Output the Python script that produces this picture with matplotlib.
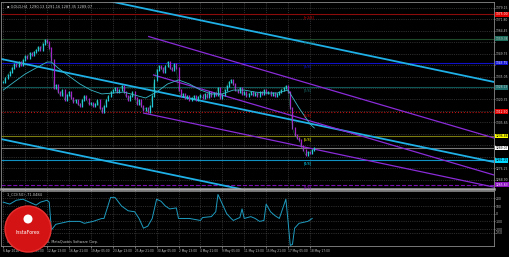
import numpy as np
import matplotlib.pyplot as plt
from matplotlib.patches import Ellipse
import matplotlib.transforms as mtransforms

# GOLD H4 closes, bar by bar
closes = [1331.6, 1334.1, 1336.1, 1338.0, 1340.6, 1343.1, 1341.9, 1344.4, 1342.5, 1345.7,
          1348.3, 1347.0, 1350.2, 1348.9, 1350.9, 1352.1, 1354.1, 1352.1, 1356.0, 1358.6,
          1357.3, 1353.4, 1345.7, 1327.7, 1329.6, 1325.1, 1323.2, 1326.4, 1320.0, 1323.2,
          1325.1, 1321.3, 1318.7, 1320.0, 1317.4, 1316.1, 1320.0, 1322.6, 1320.6, 1317.4,
          1318.1, 1316.1, 1317.4, 1320.0, 1314.9, 1312.3, 1316.1, 1320.0, 1322.6, 1325.1,
          1326.4, 1327.7, 1325.1, 1326.4, 1329.0, 1325.1, 1322.6, 1320.0, 1322.6, 1325.1,
          1321.3, 1317.4, 1320.0, 1316.1, 1313.6, 1314.9, 1312.3, 1316.1, 1322.6, 1332.9,
          1339.3, 1341.9, 1340.6, 1338.0, 1341.9, 1344.4, 1340.6, 1339.3, 1343.1, 1340.6,
          1326.4, 1322.6, 1323.9, 1321.3, 1322.6, 1320.0, 1321.3, 1322.6, 1320.0, 1321.9,
          1323.2, 1321.3, 1323.9, 1321.9, 1325.1, 1322.6, 1324.5, 1323.2, 1327.7, 1321.3,
          1323.2, 1326.4, 1329.0, 1331.6, 1332.9, 1330.3, 1326.4, 1325.1, 1327.7, 1323.9,
          1325.1, 1322.6, 1323.9, 1325.1, 1323.2, 1324.5, 1322.6, 1325.1, 1323.9, 1326.4,
          1324.5, 1325.1, 1323.2, 1324.5, 1322.6, 1323.9, 1325.1, 1326.4, 1327.7, 1329.0,
          1325.1, 1314.9, 1302.0, 1297.5, 1295.6, 1294.3, 1290.4, 1287.8, 1284.6, 1286.6,
          1285.9, 1287.8, 1289.1]

# moving average (sampled bars)
ma_bars = [0, 5, 10, 15, 20, 22, 25, 30, 35, 40, 45, 50, 55, 60, 65, 70, 75, 80, 85, 90,
           95, 100, 105, 110, 115, 120, 125, 130, 135, 140, 142]
ma_vals = [1326.4, 1331.6, 1336.7, 1340.6, 1344.4, 1344.4, 1340.6, 1335.4, 1330.3, 1326.4,
           1323.9, 1324.5, 1325.1, 1323.2, 1321.3, 1325.1, 1330.3, 1332.9, 1330.3, 1326.4,
           1323.9, 1323.9, 1326.4, 1326.4, 1325.1, 1324.5, 1324.5, 1326.4, 1314.9, 1304.6, 1302.0]

# CCI(50)
cci_bars = [0, 3, 6, 9, 12, 15, 17, 20, 21, 22, 24, 30, 35, 37, 41, 45, 46, 49, 51, 54,
            57, 60, 62, 64, 66, 68, 70, 72, 74, 76, 79, 80, 85, 90, 91, 95, 97, 98, 99, 100,
            102, 104, 105, 107, 108, 109, 110, 113, 115, 117, 119, 120, 122, 124, 126, 129,
            130, 131, 132, 133, 135, 139, 141]
cci_vals = [150, 125, 175, 188, 150, 112, 150, 175, 150, -212, -138, -100, -100, -125, -100,
            -62, -62, 212, 212, 100, 38, 25, -62, -188, -162, -62, 188, 162, 100, 62, 75, -62,
            -62, -88, -50, -38, 25, 250, 188, 125, 0, -62, -88, -62, -50, 62, -62, -38, -62,
            -100, -88, 125, 25, -25, -62, 188, -100, -412, -400, -188, -125, -100, -62]

# Murrey-style horizontal levels
levels = [1375.00, 1359.38, 1343.75, 1328.13, 1312.50, 1296.88, 1289.07, 1281.25, 1265.63]
level_names = ['[+2/8]', '[+1/8]', '[8/8]', '[7/8]', '[6/8]', '[5/8]', '', '[4/8]', '[3/8]']
level_line = ['#8B0A0A', '#1E4A2A', '#1010C8', '#0E5656', '#C01010', '#7A7A10', '#7A7A7A',
              '#1090C0', '#7A10B0']
level_box = ['#E00000', '#1E6E5E', '#1010D0', '#1E6E6E', '#E00000', '#FFFF00', '#FFFFFF',
             '#00D8FF', '#8A10C0']
level_txt = ['white', '#C0C0C0', 'white', '#C0C0C0', 'white', 'black', 'black', 'black', 'white']
level_style = ['-', '-', '-', '-', ':', '-', '-', '-', '--']

# channel lines (bar, price, bar, price)
cyan_lines = [(45.9, 1384.3, 224, 1331.6), (-1, 1346.4, 224, 1280.1), (-1, 1294.9, 108.2, 1262.8)]
purple_lines = [(66.4, 1360.8, 224, 1295.6), (68.6, 1336.1, 224, 1271.8), (64.1, 1311.6, 224, 1264.0)]

price_ticks = [1379.15, 1371.80, 1364.45, 1357.10, 1349.75, 1342.40, 1335.05, 1327.70,
               1320.35, 1313.00, 1305.65, 1298.30, 1290.95, 1283.60, 1276.25, 1268.90]
cci_ticks = [200, 100, 0, -100, -200, -250]

date_bars = list(range(0, 150, 10))
date_labels = ['6 Apr 2018', '10 Apr 05:00', '12 Apr 13:00', '16 Apr 21:00', '19 Apr 05:00',
               '23 Apr 13:00', '25 Apr 21:00', '30 Apr 05:00', '2 May 13:00', '4 May 21:00',
               '9 May 05:00', '11 May 13:00', '15 May 21:00', '17 May 05:00', '18 May 17:00']

fs = 2.2
gridc = '#555555'
txtc = '#C8C8C8'

fig = plt.figure(figsize=(5.1, 2.57), dpi=100, facecolor='black')
ax = fig.add_axes([0.002, 0.2646, 0.9667, 0.7276], facecolor='black')
ax2 = fig.add_axes([0.002, 0.0428, 0.9667, 0.214], facecolor='black')

for a in (ax, ax2):
    a.set_xlim(-1, 224)
    for s in a.spines.values():
        s.set_color('#8A8A8A')
        s.set_linewidth(0.6)
    a.yaxis.tick_right()
    a.tick_params(axis='y', colors=txtc, labelsize=fs, length=1.0, width=0.4, pad=0.5)
    a.tick_params(axis='x', colors=txtc, labelsize=2.1, length=1.5, width=0.4, pad=0.8)
    a.set_xticks(date_bars)
    a.grid(True, linestyle=':', color=gridc, linewidth=0.5)
    a.set_axisbelow(True)

ax.spines['bottom'].set_color('#A8A8A8')
ax.spines['bottom'].set_linewidth(1.8)
ax.set_ylim(1262.8, 1383.0)
# tick labels hidden behind the level boxes are left out
shown = [t for t in price_ticks if min(abs(t - lv) for lv in levels) > 2.6]
ax.set_yticks(price_ticks)
ax.set_yticklabels(['%.2f' % v if v in shown else '' for v in price_ticks])
ax.tick_params(axis='x', labelbottom=False)

# levels
tr = mtransforms.blended_transform_factory(ax.transAxes, ax.transData)
for lv, nm, lc, bc, tc, ls in zip(levels, level_names, level_line, level_box, level_txt, level_style):
    ax.axhline(lv, color=lc, linestyle=ls, linewidth=0.8, zorder=1)
    ax.text(1.003, lv, '%.2f' % lv, transform=tr, fontsize=fs, color=tc, va='center', ha='left',
            bbox=dict(boxstyle='square,pad=0.12', fc=bc, ec='none'), clip_on=False, zorder=5)
    if nm:
        ax.text(137, lv - 0.8, nm, fontsize=2.4, color=bc if bc != '#FFFFFF' else '#C0C0C0',
                va='top', ha='left', zorder=4)

for x0, y0, x1, y1 in cyan_lines:
    ax.plot([x0, x1], [y0, y1], color='#1EB0E6', linewidth=1.3, zorder=2)
for x0, y0, x1, y1 in purple_lines:
    ax.plot([x0, x1], [y0, y1], color='#8A2BD8', linewidth=0.9, zorder=2)

# candles
c = np.array(closes)
o = np.concatenate([[c[0]], c[:-1]])
xs = np.arange(len(c))
cols = ['#22C8D8' if cc >= oo else '#A424C8' for cc, oo in zip(c, o)]
ax.vlines(xs, np.minimum(o, c) - 0.6, np.maximum(o, c) + 0.6, colors=cols, linewidth=0.9, zorder=3)
ax.plot(xs, c, color='#30D080', linewidth=0.3, alpha=0.6, zorder=3)
ax.plot(ma_bars, ma_vals, color='#38B8C8', linewidth=0.6, zorder=3)

ax.text(0.012, 0.985, '\u25aa GOLD,H4  1290.13 1291.16 1287.35 1289.07', transform=ax.transAxes,
        fontsize=2.6, color=txtc, va='top', ha='left')

# CCI panel
ax2.set_ylim(-420, 295)
ax2.set_yticks(cci_ticks)
ax2.set_yticklabels([str(v) for v in cci_ticks])
ax2.set_xticklabels(date_labels, ha='left')
ax2.plot(cci_bars, cci_vals, color='#1E9CC0', linewidth=0.7, zorder=3)
ax2.text(0.012, 0.97, '1_CCI(50) -71.0484', transform=ax2.transAxes, fontsize=2.6,
         color=txtc, va='top', ha='left')
ax2.text(0.012, 0.04, '(FP Equity) \u00a9 2001-2018, MetaQuotes Software Corp.',
         transform=ax2.transAxes, fontsize=2.4, color=txtc, va='bottom', ha='left')

# logo
lx, ly = 28 / 510, 1 - 229 / 257
fig.patches.append(Ellipse((lx, ly), 46 / 510, 46 / 257, transform=fig.transFigure,
                           facecolor='#D41414', edgecolor='#E83030', linewidth=1.0, zorder=10))
fig.patches.append(Ellipse((lx, 1 - 219 / 257), 9 / 510, 9 / 257, transform=fig.transFigure,
                           facecolor='white', edgecolor='none', zorder=11))
fig.text(lx, 1 - 232 / 257, 'InstaForex', fontsize=3.4, color='white', ha='center', va='center',
         zorder=12)

fig.savefig('out.png', dpi=100, facecolor='black')
